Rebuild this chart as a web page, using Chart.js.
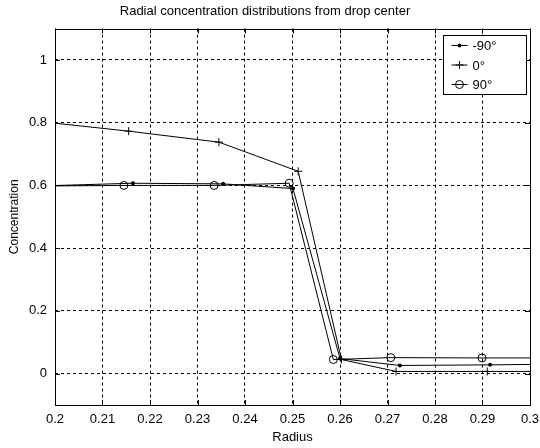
<!DOCTYPE html>
<html>
<head>
<meta charset="utf-8">
<script src="https://cdn.jsdelivr.net/npm/chart.js@4/dist/chart.umd.min.js"></script>
<style>
  html, body { margin: 0; padding: 0; background: #fff; }
  canvas { display: block; }
</style>
</head>
<body>
<canvas id="myChart" width="540" height="448"></canvas>
<script>
// radius / concentration samples for each drop angle
const radiusM90 = [0.196, 0.2164, 0.2354, 0.2501, 0.2600, 0.2726, 0.2916, 0.310];
const concM90   = [0.598, 0.607, 0.605, 0.590, 0.048, 0.026, 0.028, 0.031];

const radius0 = [0.196, 0.2155, 0.2345, 0.2512, 0.2603, 0.2718, 0.2910, 0.309];
const conc0   = [0.805, 0.773, 0.738, 0.645, 0.045, 0.007, 0.007, 0.007];

const radius90 = [0.196, 0.2145, 0.2335, 0.2493, 0.2586, 0.2707, 0.2899, 0.309];
const conc90   = [0.598, 0.600, 0.600, 0.607, 0.045, 0.051, 0.050, 0.050];

const seriesNames = ['-90°', '0°', '90°'];
const xTicks = [0.2, 0.21, 0.22, 0.23, 0.24, 0.25, 0.26, 0.27, 0.28, 0.29, 0.3];
const yTicks = [0, 0.2, 0.4, 0.6, 0.8, 1];

const FONT = '"Liberation Sans", Arial, Helvetica, sans-serif';

function pairs(xs, ys) {
    let out = [];
    for (let i = 0; i < xs.length; i++) {
        out.push({x: xs[i], y: ys[i]});
    }
    return out;
}

function fmt(v) {
    return String(Number(v.toFixed(2)));
}

// draws one marker the way the plot does (dot, plus, open circle)
function marker(ctx, style, x, y) {
    ctx.save();
    ctx.strokeStyle = '#000';
    ctx.fillStyle = '#000';
    ctx.lineWidth = 1;
    ctx.beginPath();
    if (style === 'dot') {
        ctx.arc(x, y, 2, 0, Math.PI * 2);
        ctx.fill();
    } else if (style === 'plus') {
        ctx.moveTo(x - 4, y); ctx.lineTo(x + 4, y);
        ctx.moveTo(x, y - 4); ctx.lineTo(x, y + 4);
        ctx.stroke();
    } else {
        ctx.arc(x, y, 4, 0, Math.PI * 2);
        ctx.stroke();
    }
    ctx.restore();
}

const markerStyles = ['dot', 'plus', 'circle'];

// white page, box frame, inward ticks and the boxed legend
const framePlugin = {
    id: 'frame',
    beforeDraw(chart) {
        const ctx = chart.ctx;
        ctx.save();
        ctx.fillStyle = '#fff';
        ctx.fillRect(0, 0, chart.width, chart.height);
        ctx.restore();
    },
    afterDraw(chart) {
        const ctx = chart.ctx;
        const a = chart.chartArea;
        const xs = chart.scales.x, ys = chart.scales.y;
        ctx.save();
        ctx.strokeStyle = '#000';
        ctx.lineWidth = 1;
        ctx.strokeRect(Math.round(a.left) + 0.5, Math.round(a.top) + 0.5,
            Math.round(a.right - a.left), Math.round(a.bottom - a.top));
        ctx.beginPath();
        xTicks.forEach(v => {
            const px = Math.round(xs.getPixelForValue(v)) + 0.5;
            ctx.moveTo(px, a.top); ctx.lineTo(px, a.top + 5);
            ctx.moveTo(px, a.bottom); ctx.lineTo(px, a.bottom - 5);
        });
        yTicks.forEach(v => {
            const py = Math.round(ys.getPixelForValue(v)) + 0.5;
            ctx.moveTo(a.left, py); ctx.lineTo(a.left + 5, py);
            ctx.moveTo(a.right, py); ctx.lineTo(a.right - 5, py);
        });
        ctx.stroke();

        // legend box
        const bx = Math.round(a.right) - 86.5, by = Math.round(a.top) + 6.5;
        const bw = 83, bh = 59;
        ctx.fillStyle = '#fff';
        ctx.fillRect(bx, by, bw, bh);
        ctx.strokeRect(bx, by, bw, bh);
        ctx.font = '13px ' + FONT;
        ctx.fillStyle = '#000';
        ctx.textBaseline = 'middle';
        ctx.textAlign = 'left';
        chart.data.datasets.forEach((ds, i) => {
            const ry = by + 10 + i * 19.5;
            ctx.beginPath();
            ctx.moveTo(bx + 8, ry); ctx.lineTo(bx + 24, ry);
            ctx.stroke();
            marker(ctx, markerStyles[i], bx + 16, ry);
            ctx.fillText(ds.label, bx + 29, ry + 1);
        });
        ctx.restore();
    }
};

const ctx = document.getElementById('myChart').getContext('2d');
const chart = new Chart(ctx, {
    type: 'line',
    data: {
        datasets: [{
            label: seriesNames[0],
            data: pairs(radiusM90, concM90),
            borderColor: '#000',
            backgroundColor: '#000',
            borderWidth: 1,
            pointStyle: 'circle',
            pointRadius: 2,
            pointBorderWidth: 0,
            clip: 0
        }, {
            label: seriesNames[1],
            data: pairs(radius0, conc0),
            borderColor: '#000',
            backgroundColor: '#000',
            borderWidth: 1,
            pointStyle: 'cross',
            pointRadius: 4,
            pointBorderWidth: 1,
            clip: 0
        }, {
            label: seriesNames[2],
            data: pairs(radius90, conc90),
            borderColor: '#000',
            backgroundColor: 'rgba(0,0,0,0)',
            borderWidth: 1,
            pointStyle: 'circle',
            pointRadius: 4,
            pointBorderWidth: 1,
            clip: 0
        }]
    },
    options: {
        responsive: false,
        animation: false,
        events: [],
        layout: { padding: { left: 0, right: 10, top: 0, bottom: 0 } },
        elements: { line: { tension: 0 } },
        plugins: {
            legend: { display: false },
            tooltip: { enabled: false },
            title: {
                display: true,
                text: 'Radial concentration distributions from drop center',
                color: '#000',
                font: { family: FONT, size: 13, weight: 'normal' },
                padding: { top: 4, bottom: 9 }
            }
        },
        scales: {
            x: {
                type: 'linear',
                min: 0.2,
                max: 0.3,
                afterBuildTicks: s => { s.ticks = xTicks.map(v => ({value: v})); },
                afterFit: s => {
                    s.height = 43;
                    s.paddingLeft = 0;
                    s.paddingRight = 0;
                },
                grid: { color: '#000', lineWidth: 1, drawTicks: false },
                border: { display: false, dash: [3, 3] },
                ticks: {
                    color: '#000',
                    padding: 7,
                    maxRotation: 0,
                    autoSkip: false,
                    font: { family: FONT, size: 13 },
                    callback: v => fmt(v)
                },
                title: {
                    display: true,
                    text: 'Radius',
                    color: '#000',
                    font: { family: FONT, size: 13 },
                    padding: { top: 0, bottom: 3 }
                }
            },
            y: {
                type: 'linear',
                min: -0.1,
                max: 1.1,
                afterBuildTicks: s => { s.ticks = yTicks.map(v => ({value: v})); },
                afterFit: s => { s.width = 55; },
                grid: { color: '#000', lineWidth: 1, drawTicks: false },
                border: { display: false, dash: [3, 3] },
                ticks: {
                    color: '#000',
                    padding: 8,
                    autoSkip: false,
                    font: { family: FONT, size: 13 },
                    callback: v => fmt(v)
                },
                title: {
                    display: true,
                    text: 'Concentration',
                    color: '#000',
                    font: { family: FONT, size: 12 },
                    padding: { top: 7, bottom: 0 }
                }
            }
        }
    },
    plugins: [framePlugin]
});
</script>
</body>
</html>
